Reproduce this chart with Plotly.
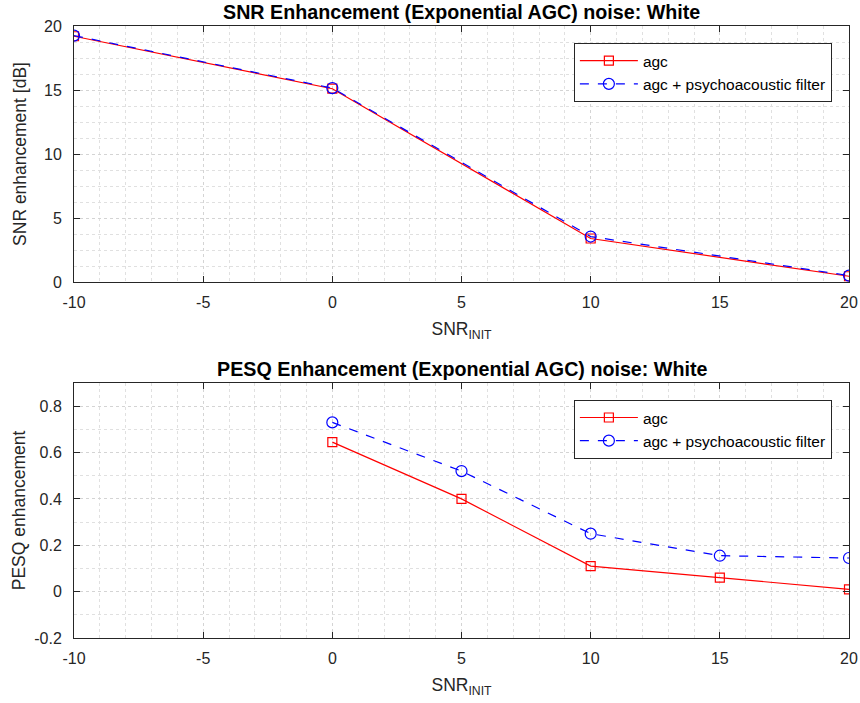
import plotly.graph_objects as go

# Data
snr_x_top = [-10, 0, 10, 20]
snr_agc = [19.2, 15.1, 3.4, 0.45]
snr_psy = [19.25, 15.15, 3.55, 0.5]

pesq_x = [0, 5, 10, 15, 20]
pesq_agc = [0.645, 0.40, 0.11, 0.06, 0.01]
pesq_psy = [0.73, 0.52, 0.25, 0.155, 0.145]

x_ticks = [-10, -5, 0, 5, 10, 15, 20]
x_ticklabels = ["-10", "-5", "0", "5", "10", "15", "20"]
top_yticks = [0, 5, 10, 15, 20]
top_yticklabels = ["0", "5", "10", "15", "20"]
bot_yticks = [-0.2, 0, 0.2, 0.4, 0.6, 0.8]
bot_yticklabels = ["-0.2", "0", "0.2", "0.4", "0.6", "0.8"]

FONT = "Liberation Sans, Arial, Helvetica, sans-serif"
RED = "#ff0000"
BLUE = "#0000ff"
AX = "#262626"

fig = go.Figure()

fig.add_trace(go.Scatter(x=snr_x_top, y=snr_agc, mode="lines+markers", name="agc",
                         line=dict(color=RED, width=1.2),
                         marker=dict(symbol="square-open", size=9, color=RED, line=dict(width=1.2)),
                         xaxis="x", yaxis="y", legend="legend"))
fig.add_trace(go.Scatter(x=snr_x_top, y=snr_psy, mode="lines+markers", name="agc + psychoacoustic filter",
                         line=dict(color=BLUE, width=1.2, dash="dash"),
                         marker=dict(symbol="circle-open", size=11, color=BLUE, line=dict(width=1.2)),
                         xaxis="x", yaxis="y", legend="legend"))
fig.add_trace(go.Scatter(x=pesq_x, y=pesq_agc, mode="lines+markers", name="agc",
                         line=dict(color=RED, width=1.2),
                         marker=dict(symbol="square-open", size=9, color=RED, line=dict(width=1.2)),
                         xaxis="x2", yaxis="y2", legend="legend2"))
fig.add_trace(go.Scatter(x=pesq_x, y=pesq_psy, mode="lines+markers", name="agc + psychoacoustic filter",
                         line=dict(color=BLUE, width=1.2, dash="dash"),
                         marker=dict(symbol="circle-open", size=11, color=BLUE, line=dict(width=1.2)),
                         xaxis="x2", yaxis="y2", legend="legend2"))

base = dict(showgrid=True, gridcolor="#d4d4d4", griddash="dot", gridwidth=1,
            showline=True, linecolor=AX, linewidth=1, mirror="ticks",
            ticks="inside", ticklen=6, tickcolor=AX, zeroline=False, automargin=False,
            tickfont=dict(size=16, color=AX, family=FONT))
minor_x = dict(dtick=1, showgrid=True, gridcolor="#e0e0e0", griddash="dot", gridwidth=1, ticks="")
tfont = dict(size=17.5, family=FONT, color=AX)

fig.update_layout(
    width=860, height=703,
    margin=dict(l=74, r=11, t=26, b=65),
    paper_bgcolor="white", plot_bgcolor="white",
    font=dict(family=FONT, color=AX),
    xaxis=dict(domain=[0, 1], anchor="y", range=[-10, 20], tickvals=x_ticks, ticktext=x_ticklabels,
               minor=minor_x, ticklabelstandoff=6,
               title=dict(text="SNR<sub>INIT</sub>", font=tfont, standoff=12),
               **base),
    yaxis=dict(domain=[0.5817, 1], anchor="x", range=[0, 20], tickvals=top_yticks, ticktext=top_yticklabels,
               minor=dict(dtick=1.25, showgrid=True, gridcolor="#e0e0e0", griddash="dot", ticks=""),
               ticklabelstandoff=8,
               title=dict(text="SNR enhancement [dB]", font=tfont, standoff=12),
               **base),
    xaxis2=dict(domain=[0, 1], anchor="y2", range=[-10, 20], tickvals=x_ticks, ticktext=x_ticklabels,
                minor=minor_x, ticklabelstandoff=6,
                title=dict(text="SNR<sub>INIT</sub>", font=tfont, standoff=12),
                **base),
    yaxis2=dict(domain=[0, 0.4167], anchor="x2", range=[-0.2, 0.9], tickvals=bot_yticks, ticktext=bot_yticklabels,
                minor=dict(dtick=0.1, showgrid=True, gridcolor="#e0e0e0", griddash="dot", ticks=""),
                ticklabelstandoff=8,
                title=dict(text="PESQ enhancement", font=tfont, standoff=4),
                **base),
    legend=dict(x=0.645, y=0.972, xanchor="left", yanchor="top", bgcolor="white",
                bordercolor=AX, borderwidth=1, font=dict(size=15.5, family=FONT, color="#000000"),
                tracegroupgap=0, itemwidth=58),
    legend2=dict(x=0.645, y=0.389, xanchor="left", yanchor="top", bgcolor="white",
                 bordercolor=AX, borderwidth=1, font=dict(size=15.5, family=FONT, color="#000000"),
                 tracegroupgap=0, itemwidth=58),
    annotations=[
        dict(text="<b>SNR Enhancement (Exponential AGC) noise: White</b>", x=0.5, y=1, xref="paper", yref="paper",
             xanchor="center", yanchor="bottom", yshift=1, showarrow=False,
             font=dict(size=19.7, family=FONT, color="#000000")),
        dict(text="<b>PESQ Enhancement (Exponential AGC) noise: White</b>", x=0.5, y=0.4167, xref="paper", yref="paper",
             xanchor="center", yanchor="bottom", yshift=1, showarrow=False,
             font=dict(size=19.7, family=FONT, color="#000000")),
    ],
    showlegend=True,
)

fig.write_html("out.html")
